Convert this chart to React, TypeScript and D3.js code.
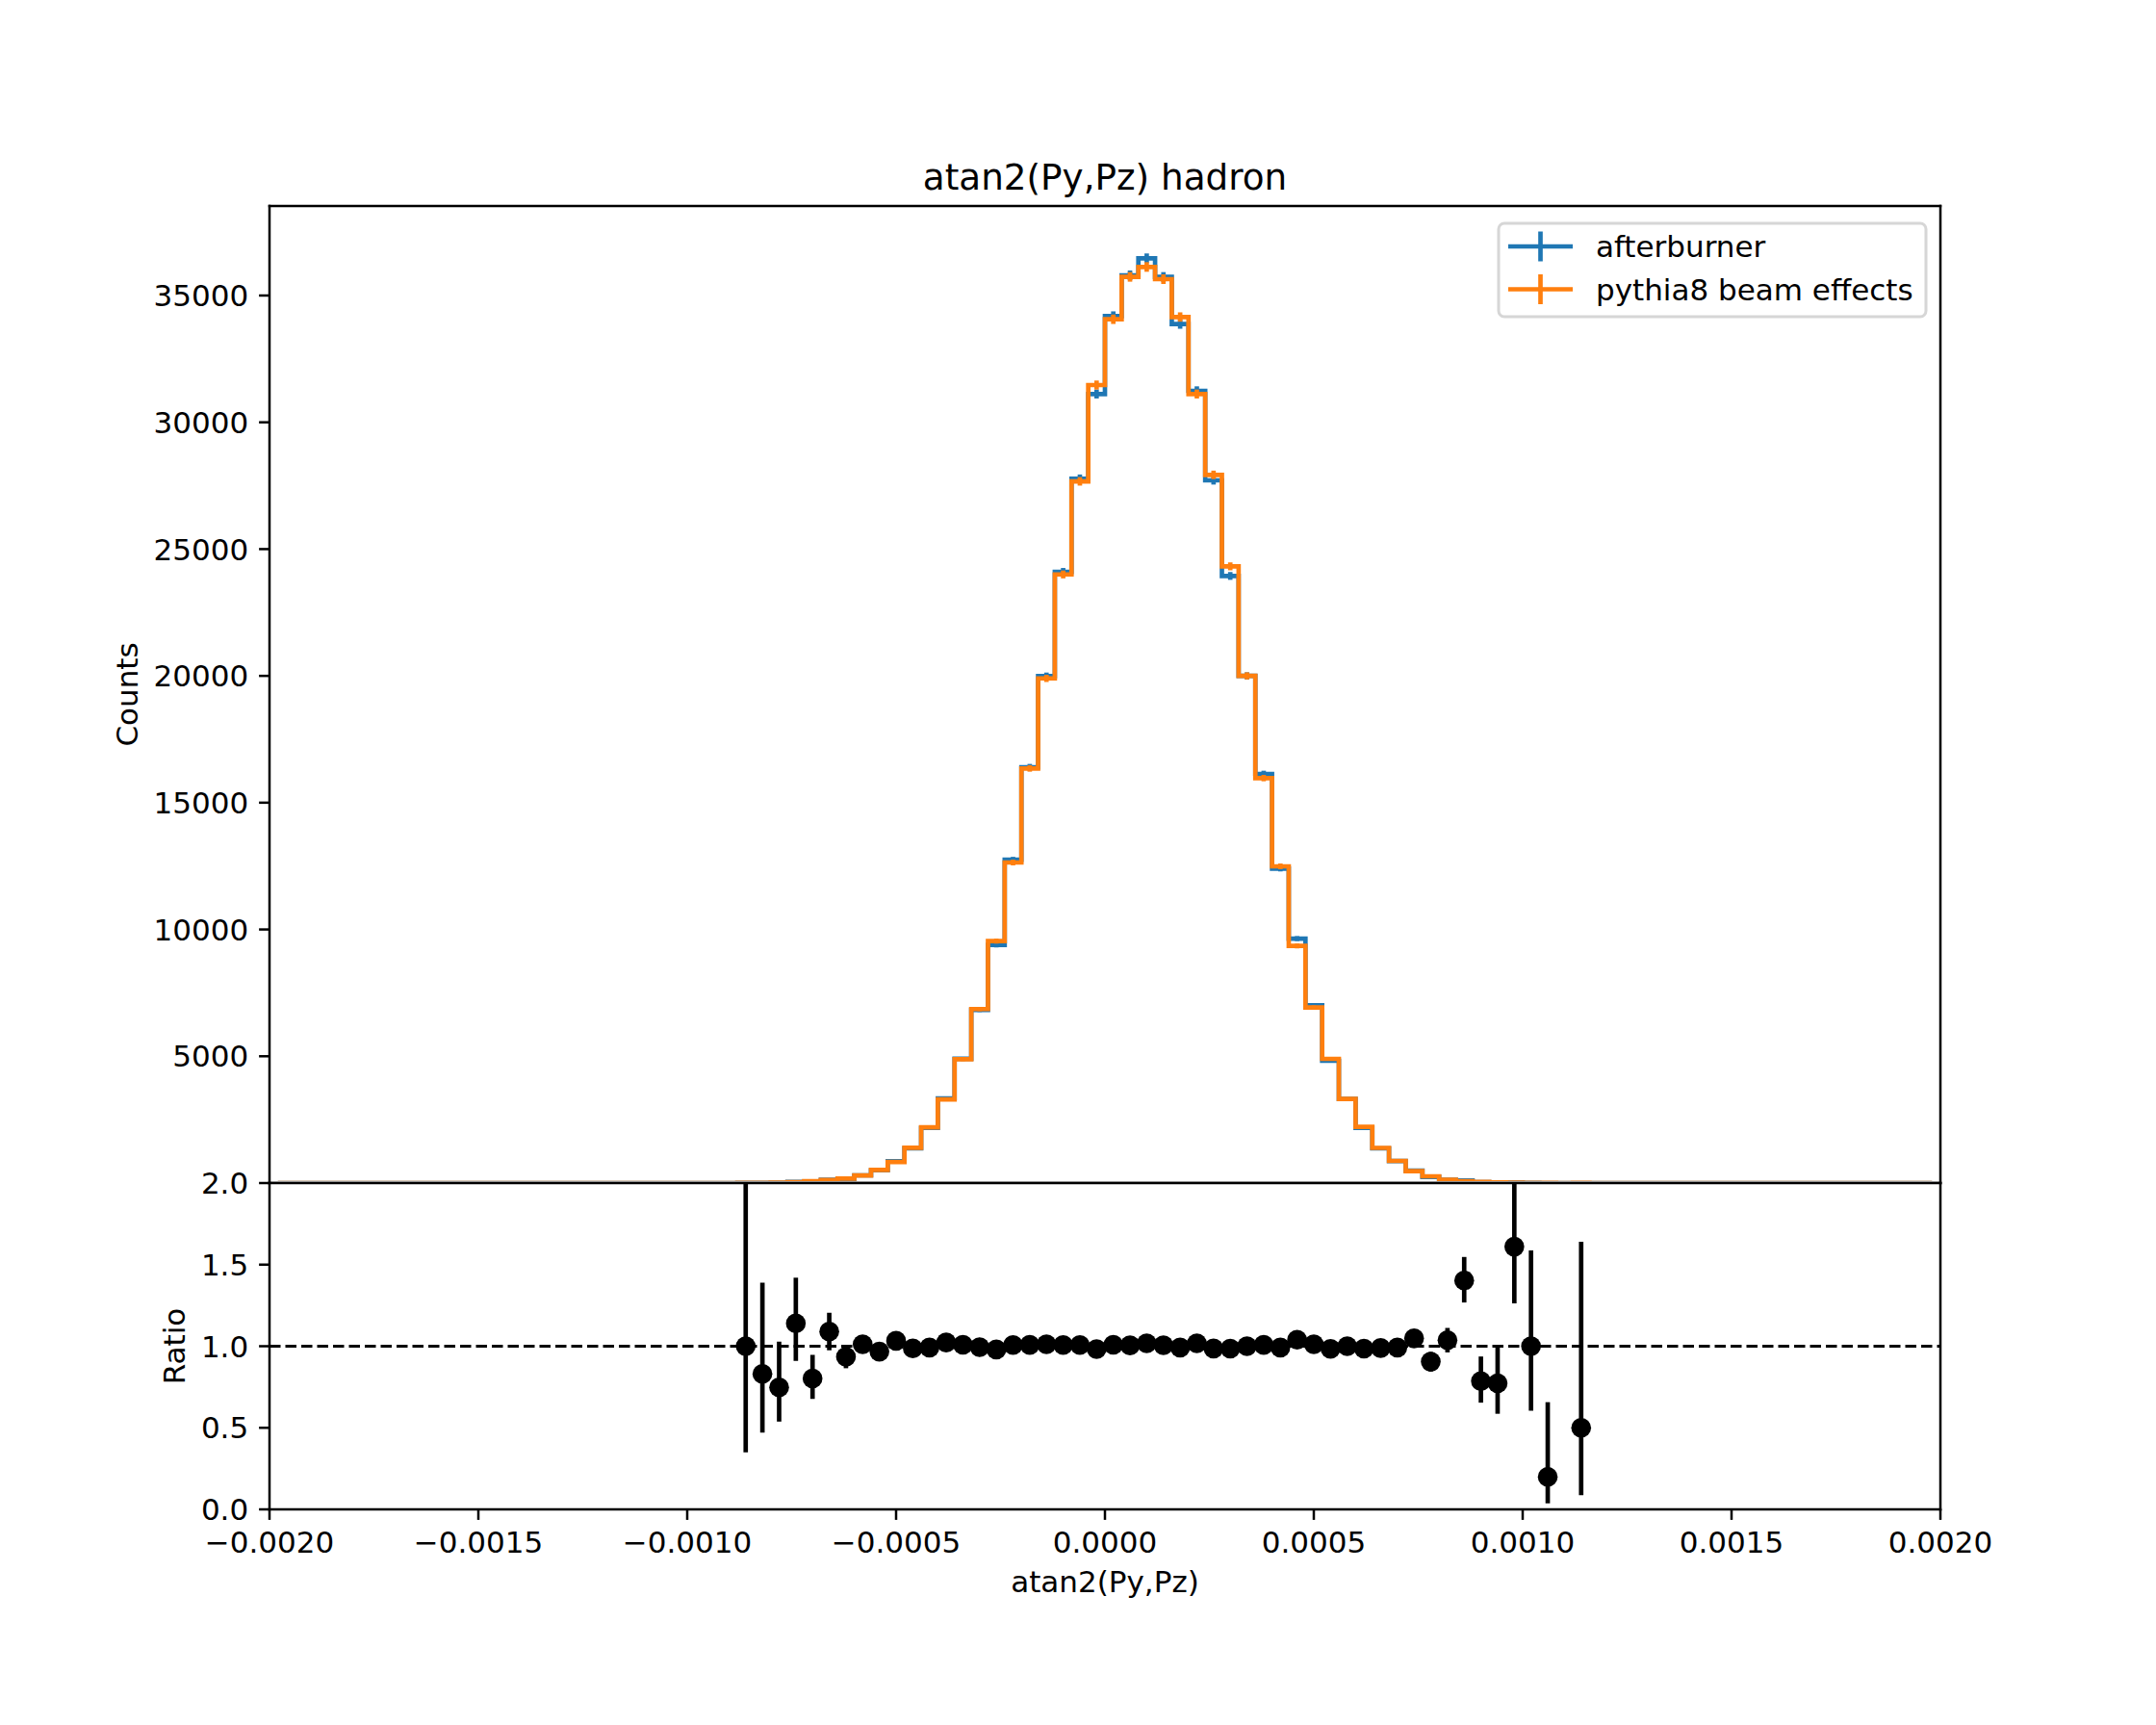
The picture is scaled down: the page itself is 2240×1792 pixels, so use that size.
import React from "react";
import * as d3 from "d3";

// ---------------- data ----------------
const BIN_LO = -0.002;
const BIN_W = 0.00004;
const N_BINS = 100;
const FIRST_BIN = 28; // index of the first bin listed below (center -0.00086)

// counts for bins with centres -0.00086 ... 0.00114 (51 bins)
const afterburner = [
  4, 7, 12, 40, 56, 131, 166, 304, 503, 858,
  1373, 2174, 3340, 4904, 6827, 9388, 12750, 16400, 19990, 24100,
  27775, 31116, 34190, 35797, 36468, 35734, 33873, 31242, 27711, 23941,
  20000, 16133, 12400, 9640, 7010, 4820, 3315, 2180, 1368, 868,
  491, 241, 132, 101, 35, 23, 22, 8, 1, 0, 1,
];
const pythia8 = [
  4, 8, 16, 35, 70, 120, 178, 300, 520, 830,
  1390, 2200, 3300, 4880, 6860, 9540, 12640, 16350, 19900, 24000,
  27670, 31470, 34063, 35734, 36126, 35645, 34152, 31116, 27927, 24320,
  20000, 15970, 12489, 9350, 6921, 4897, 3315, 2215, 1385, 873,
  468, 266, 127, 72, 45, 30, 14, 8, 5, 0, 2,
];
const ratio = [
  1.0, 0.83, 0.748, 1.14, 0.802, 1.09, 0.935, 1.012, 0.967, 1.033,
  0.987, 0.992, 1.023, 1.009, 0.994, 0.98, 1.007, 1.008, 1.012, 1.007,
  1.007, 0.982, 1.009, 1.005, 1.018, 1.006, 0.992, 1.018, 0.986, 0.985,
  1.0, 1.008, 0.992, 1.04, 1.012, 0.984, 1.0, 0.985, 0.989, 0.992,
  1.048, 0.905, 1.037, 1.403, 0.786, 0.773, 1.61, 1.0, 0.199, null, 0.5,
];
const ratioErrLo = [
  0.65, 0.36, 0.21, 0.23, 0.125, 0.115, 0.07, 0.055, 0.04, 0.032,
  0.025, 0.02, 0.016, 0.013, 0.011, 0.009, 0.008, 0.007, 0.006, 0.0057,
  0.0055, 0.0053, 0.005, 0.005, 0.005, 0.005, 0.005, 0.0052, 0.0055, 0.0058,
  0.006, 0.007, 0.008, 0.009, 0.011, 0.013, 0.016, 0.02, 0.025, 0.033,
  0.045, 0.06, 0.075, 0.135, 0.132, 0.187, 0.347, 0.396, 0.162, null, 0.413,
];
const ratioErrHi = [
  1.1, 0.56, 0.28, 0.28, 0.145, 0.115, 0.07, 0.055, 0.04, 0.032,
  0.025, 0.02, 0.016, 0.013, 0.011, 0.009, 0.008, 0.007, 0.006, 0.0057,
  0.0055, 0.0053, 0.005, 0.005, 0.005, 0.005, 0.005, 0.0052, 0.0055, 0.0058,
  0.006, 0.007, 0.008, 0.009, 0.011, 0.013, 0.016, 0.02, 0.025, 0.033,
  0.045, 0.06, 0.075, 0.144, 0.151, 0.234, 0.5, 0.587, 0.458, null, 1.14,
];

const xTicks = [-0.002, -0.0015, -0.001, -0.0005, 0, 0.0005, 0.001, 0.0015, 0.002];
const countTicks = [5000, 10000, 15000, 20000, 25000, 30000, 35000];
const ratioTicks = [0, 0.5, 1.0, 1.5, 2.0];

const seriesNames = ["afterburner", "pythia8 beam effects"];
const seriesColors = ["#1f77b4", "#ff7f0e"];

// ---------------- layout ----------------
const W = 2240, H = 1792;
const L = 280, R = 2016, T = 214, MID = 1229, B = 1568;
const FONT = "DejaVu Sans, sans-serif";
const FS = 31;
const LW = 4.67;
const SPINE = 2.5;
const TICK = 10.9;

const x = d3.scaleLinear().domain([-0.002, 0.002]).range([L, R]);
const yTop = d3.scaleLinear().domain([0, 38530]).range([MID, T]);
const yRat = d3.scaleLinear().domain([0, 2]).range([B, MID]);

const fmtX = d3.format(".4f");
const fmtR = d3.format(".1f");

function fullBins(vals: number[]) {
  const out: { c: number; v: number }[] = [];
  for (let i = 0; i < N_BINS; i++) {
    const j = i - FIRST_BIN;
    const v = j >= 0 && j < vals.length ? vals[j] : 0;
    out.push({ c: BIN_LO + (i + 0.5) * BIN_W, v });
  }
  return out;
}

const stepLine = d3
  .line<{ c: number; v: number }>()
  .x((d) => x(d.c))
  .y((d) => yTop(d.v))
  .curve(d3.curveStep);

function Spines({ top, bottom }: { top: number; bottom: number }) {
  return (
    <g stroke="#000" strokeWidth={SPINE} strokeLinecap="square">
      <line x1={L} y1={top} x2={R} y2={top} />
      <line x1={L} y1={bottom} x2={R} y2={bottom} />
      <line x1={L} y1={top} x2={L} y2={bottom} />
      <line x1={R} y1={top} x2={R} y2={bottom} />
    </g>
  );
}

export default function App() {
  const series = [afterburner, pythia8].map(fullBins);
  const ratioPts = ratio.map((r, j) => ({
    c: BIN_LO + (FIRST_BIN + j + 0.5) * BIN_W,
    r,
    lo: ratioErrLo[j],
    hi: ratioErrHi[j],
  }));

  return (
    <div style={{ position: "absolute", left: 0, top: 0 }}>
      <svg width={W} height={H} viewBox={`0 0 ${W} ${H}`} style={{ display: "block", background: "#fff" }}>
        <defs>
          <clipPath id="clipTop">
            <rect x={L} y={T} width={R - L} height={MID - T - 2.1} />
          </clipPath>
          <clipPath id="clipRat">
            <rect x={L} y={MID} width={R - L} height={B - MID} />
          </clipPath>
        </defs>
        <rect x={0} y={0} width={W} height={H} fill="#fff" />

        {/* ---------- top panel ---------- */}
        <g clipPath="url(#clipTop)">
          {series.map((s, k) => (
            <g key={k}>
              <path d={stepLine(s) || ""} fill="none" stroke={seriesColors[k]} strokeWidth={LW} strokeLinejoin="miter" />
              {s.map((d, i) =>
                d.v > 0 ? (
                  <line
                    key={i}
                    x1={x(d.c)}
                    x2={x(d.c)}
                    y1={yTop(d.v - Math.sqrt(d.v))}
                    y2={yTop(d.v + Math.sqrt(d.v))}
                    stroke={seriesColors[k]}
                    strokeWidth={LW}
                  />
                ) : null
              )}
            </g>
          ))}
        </g>

        {/* title */}
        <text x={(L + R) / 2} y={197} textAnchor="middle" fontFamily={FONT} fontSize={37.3}>
          atan2(Py,Pz) hadron
        </text>

        {/* y ticks top */}
        <g fontFamily={FONT} fontSize={FS}>
          {countTicks.map((t) => (
            <g key={t}>
              <line x1={L - TICK} x2={L} y1={yTop(t)} y2={yTop(t)} stroke="#000" strokeWidth={SPINE} />
              <text x={L - TICK - 10.9} y={yTop(t)} dy="0.36em" textAnchor="end">
                {t}
              </text>
            </g>
          ))}
        </g>
        <text
          transform={`translate(143, ${(T + MID) / 2}) rotate(-90)`}
          textAnchor="middle"
          fontFamily={FONT}
          fontSize={FS}
        >
          Counts
        </text>

        {/* legend */}
        <g>
          <rect x={1557} y={232} width={444} height={97} rx={6} ry={6} fill="#fff" fillOpacity={0.8} stroke="#d6d6d6" strokeWidth={3} />
          {seriesNames.map((n, k) => {
            const cy = 256 + k * 44.5;
            return (
              <g key={n}>
                <line x1={1567} x2={1634} y1={cy} y2={cy} stroke={seriesColors[k]} strokeWidth={LW} />
                <line x1={1600.5} x2={1600.5} y1={cy - 15.5} y2={cy + 15.5} stroke={seriesColors[k]} strokeWidth={LW} />
                <text x={1658} y={cy + 11} fontFamily={FONT} fontSize={FS}>
                  {n}
                </text>
              </g>
            );
          })}
        </g>

        <Spines top={T} bottom={MID} />

        {/* ---------- ratio panel ---------- */}
        <rect x={L} y={MID} width={R - L} height={B - MID} fill="#fff" />
        <g clipPath="url(#clipRat)">
          <line x1={L} x2={R} y1={yRat(1)} y2={yRat(1)} stroke="#000" strokeWidth={3.1} strokeDasharray="11.5 5" />
          {ratioPts.map((p, i) =>
            p.r === null ? null : (
              <g key={i}>
                <line
                  x1={x(p.c)}
                  x2={x(p.c)}
                  y1={yRat(p.r - (p.lo as number))}
                  y2={yRat(p.r + (p.hi as number))}
                  stroke="#000"
                  strokeWidth={LW}
                />
                <circle cx={x(p.c)} cy={yRat(p.r)} r={10.3} fill="#000" />
              </g>
            )
          )}
        </g>

        {/* ratio y ticks */}
        <g fontFamily={FONT} fontSize={FS}>
          {ratioTicks.map((t) => (
            <g key={t}>
              <line x1={L - TICK} x2={L} y1={yRat(t)} y2={yRat(t)} stroke="#000" strokeWidth={SPINE} />
              <text x={L - TICK - 10.9} y={yRat(t)} dy="0.36em" textAnchor="end">
                {fmtR(t)}
              </text>
            </g>
          ))}
        </g>
        <text
          transform={`translate(191.5, ${(MID + B) / 2}) rotate(-90)`}
          textAnchor="middle"
          fontFamily={FONT}
          fontSize={FS}
        >
          Ratio
        </text>

        {/* x ticks */}
        <g fontFamily={FONT} fontSize={FS}>
          {xTicks.map((t) => (
            <g key={t}>
              <line x1={x(t)} x2={x(t)} y1={B} y2={B + TICK} stroke="#000" strokeWidth={SPINE} />
              <text x={x(t)} y={B + TICK + 10.9 + 23.5} textAnchor="middle">
                {fmtX(t)}
              </text>
            </g>
          ))}
        </g>
        <text x={(L + R) / 2} y={1654} textAnchor="middle" fontFamily={FONT} fontSize={FS}>
          atan2(Py,Pz)
        </text>

        <Spines top={MID} bottom={B} />
      </svg>
    </div>
  );
}
